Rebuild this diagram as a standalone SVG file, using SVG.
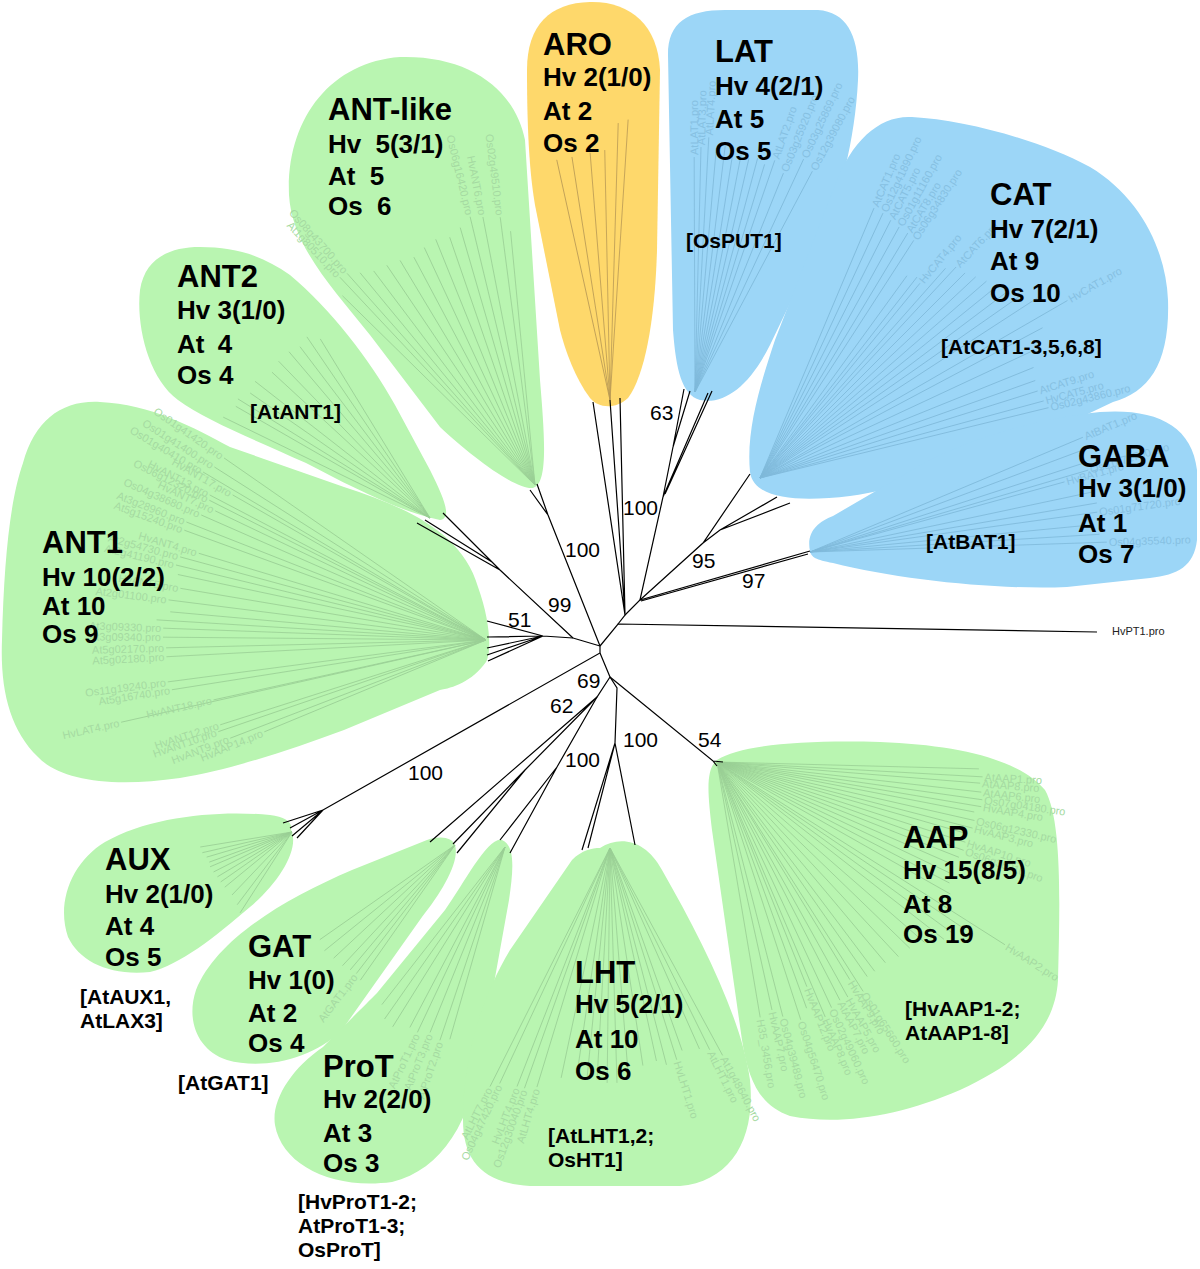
<svg xmlns="http://www.w3.org/2000/svg" width="1200" height="1269" viewBox="0 0 1200 1269">
<style>
.g{fill:#b9f5b1}
.b{fill:#9cd6f7}
.o{fill:#fed86b}
.lg line{stroke:#9acf95;stroke-width:.8}
.lb line{stroke:#7fb9da;stroke-width:.8}
.lo line{stroke:#b99a55;stroke-width:.8}
.tg{fill:#a5daa1;font-family:'Liberation Sans',Arial,sans-serif;font-size:11px}
.tb{fill:#86c0e2;font-family:'Liberation Sans',Arial,sans-serif;font-size:11px}
.e{text-anchor:end}
.nm{font-family:'Liberation Sans',Arial,sans-serif;font-weight:bold;font-size:31px;fill:#000}
.ct{font-family:'Liberation Sans',Arial,sans-serif;font-weight:bold;font-size:26px;fill:#000}
.bk{font-family:'Liberation Sans',Arial,sans-serif;font-weight:bold;font-size:21px;fill:#000}
.bs{font-family:'Liberation Sans',Arial,sans-serif;font-size:21px;fill:#000}
.br{stroke:#000;stroke-width:1.2;fill:none}
.lf{font-family:'Liberation Sans',Arial,sans-serif;font-size:11px;fill:#222}
</style>

<g id="ANT-like">
<path class="g" d="M533,488 C515,490 470,455 440,427 L370,335 C330,285 292,245 289,195 C286,120 330,62 400,57 C470,55 515,90 525,140 L540,380 C545,440 548,484 533,488 Z"/>
<g class="lg" transform="translate(535,485)">
<line x2="-255" transform="rotate(84.5)"/><line x2="-270" transform="rotate(82.6)"/><line x2="-273" transform="rotate(79)"/><line x2="-276" transform="rotate(76.4)"/><line x2="-268" transform="rotate(73.8)"/><line x2="-262" transform="rotate(71)"/><line x2="-265" transform="rotate(68)"/><line x2="-262" transform="rotate(65)"/><line x2="-258" transform="rotate(62)"/><line x2="-262" transform="rotate(59)"/><line x2="-265" transform="rotate(56)"/><line x2="-268" transform="rotate(53)"/><line x2="-275" transform="rotate(50.5)"/><line x2="-283" transform="rotate(48.4)"/><line x2="-285" transform="rotate(46.8)"/><line x2="-270" transform="rotate(44.5)"/>
</g>
<g class="tg e" transform="translate(535,485)">
<text x="-272" y="4" transform="rotate(82.6)">Os02g49510.pro</text>
<text x="-275" y="4" transform="rotate(79)">HvANT6.pro</text>
<text x="-278" y="4" transform="rotate(76.4)">Os06g16420.pro</text>
<text x="-285" y="4" transform="rotate(48.4)">Os08g43700.pro</text>
<text x="-287" y="4" transform="rotate(46.8)">At1g80510.pro</text>
</g>
<text class="nm" x="328" y="120">ANT-like</text>
<text class="ct" x="328" y="153">Hv <tspan dx="7">5(3/1)</tspan></text>
<text class="ct" x="328" y="185">At <tspan dx="7">5</tspan></text>
<text class="ct" x="328" y="215">Os <tspan dx="7">6</tspan></text>
</g>

<g id="ARO">
<path class="o" d="M527,70 C527,25 550,3 590,2 C630,1 658,25 660,70 L657,250 C655,320 645,375 628,398 C615,410 598,408 590,398 C575,378 565,350 560,330 L535,205 C528,165 527,110 527,70 Z"/>
<g class="lo" transform="translate(610,400)">
<line x2="-246" transform="rotate(77.5)"/><line x2="-246" transform="rotate(81.1)"/><line x2="-248" transform="rotate(85.4)"/><line x2="-250" transform="rotate(88.8)"/><line x2="-277" transform="rotate(91.7)"/><line x2="-281" transform="rotate(93.7)"/>
</g>
<text class="nm" x="543" y="55">ARO</text>
<text class="ct" x="543" y="86">Hv 2(1/0)</text>
<text class="ct" x="543" y="120">At 2</text>
<text class="ct" x="543" y="152">Os 2</text>
</g>

<g id="LAT">
<path class="b" d="M668,55 C668,22 688,10 725,10 L818,10 C848,12 860,38 858,80 C855,140 840,200 818,245 L770,345 C750,385 725,405 700,400 C682,395 676,370 673,330 Z"/>
<g class="lb" transform="translate(695,392)">
<line x2="235" transform="rotate(-90.2)"/><line x2="245" transform="rotate(-88.6)"/><line x2="255" transform="rotate(-86.9)"/><line x2="245" transform="rotate(-85)"/><line x2="250" transform="rotate(-83)"/><line x2="248" transform="rotate(-81)"/><line x2="245" transform="rotate(-79)"/><line x2="240" transform="rotate(-77)"/><line x2="242" transform="rotate(-75)"/><line x2="238" transform="rotate(-73)"/><line x2="245" transform="rotate(-71)"/><line x2="236" transform="rotate(-68)"/><line x2="257" transform="rotate(-65)"/><line x2="250" transform="rotate(-62)"/>
</g>
<g class="tb" transform="translate(695,392)">
<text x="237" y="4" transform="rotate(-90.2)">AtLAT1.pro</text>
<text x="247" y="4" transform="rotate(-88.6)">AtLAT3.pro</text>
<text x="257" y="4" transform="rotate(-86.9)">AtLAT4.pro</text>
<text x="247" y="4" transform="rotate(-71)">AtLAT2.pro</text>
<text x="238" y="4" transform="rotate(-68)">Os03g25920.pro</text>
<text x="259" y="4" transform="rotate(-65)">Os03g25869.pro</text>
<text x="252" y="4" transform="rotate(-62)">Os12g39080.pro</text>
</g>
<text class="nm" x="715" y="62">LAT</text>
<text class="ct" x="715" y="95">Hv 4(2/1)</text>
<text class="ct" x="715" y="128">At 5</text>
<text class="ct" x="715" y="160">Os 5</text>
<text class="bk" x="686" y="248">[OsPUT1]</text>
</g>

<g id="CAT">
<path class="b" d="M750,472 C746,430 760,385 775,340 L835,185 C852,140 880,115 912,117 C965,120 1040,140 1090,167 C1140,197 1166,250 1168,300 C1170,362 1150,392 1113,402 L1033,440 C980,462 900,490 850,496 C800,502 754,500 750,472 Z"/>
<g class="lb" transform="translate(760,478)">
<line x2="293" transform="rotate(-67.1)"/><line x2="292" transform="rotate(-65.1)"/><line x2="289" transform="rotate(-63.1)"/><line x2="287" transform="rotate(-61)"/><line x2="286" transform="rotate(-58.9)"/><line x2="283" transform="rotate(-57.1)"/><line x2="250" transform="rotate(-54)"/><line x2="255" transform="rotate(-52)"/><line x2="252" transform="rotate(-50.6)"/><line x2="280" transform="rotate(-48.5)"/><line x2="288" transform="rotate(-47.1)"/><line x2="290" transform="rotate(-45)"/><line x2="295" transform="rotate(-43)"/><line x2="300" transform="rotate(-41)"/><line x2="305" transform="rotate(-39)"/><line x2="310" transform="rotate(-37)"/><line x2="320" transform="rotate(-35)"/><line x2="330" transform="rotate(-33)"/><line x2="355" transform="rotate(-30)"/><line x2="320" transform="rotate(-28)"/><line x2="300" transform="rotate(-25)"/><line x2="295" transform="rotate(-22)"/><line x2="292" transform="rotate(-19.5)"/><line x2="291" transform="rotate(-17.4)"/><line x2="294" transform="rotate(-15.2)"/><line x2="297" transform="rotate(-13.7)"/>
</g>
<g class="tb" transform="translate(760,478)">
<text x="295" y="4" transform="rotate(-67.1)">AtCAT1.pro</text>
<text x="294" y="4" transform="rotate(-65.1)">Os12g41890.pro</text>
<text x="291" y="4" transform="rotate(-63.1)">AtCAT5.pro</text>
<text x="289" y="4" transform="rotate(-61)">Os01g11160.pro</text>
<text x="288" y="4" transform="rotate(-58.9)">AtCAT8.pro</text>
<text x="285" y="4" transform="rotate(-57.1)">Os06g34830.pro</text>
<text x="254" y="4" transform="rotate(-50.6)">HvCAT4.pro</text>
<text x="290" y="4" transform="rotate(-47.1)">AtCAT6.pro</text>
<text x="357" y="4" transform="rotate(-30)">HvCAT1.pro</text>
<text x="293" y="4" transform="rotate(-17.4)">AtCAT9.pro</text>
<text x="296" y="4" transform="rotate(-15.2)">HvCAT5.pro</text>
<text x="299" y="4" transform="rotate(-13.7)">Os02g43860.pro</text>
</g>
<text class="nm" x="990" y="205">CAT</text>
<text class="ct" x="990" y="238">Hv 7(2/1)</text>
<text class="ct" x="990" y="270">At 9</text>
<text class="ct" x="990" y="302">Os 10</text>
<text class="bk" x="941" y="354">[AtCAT1-3,5,6,8]</text>
</g>

<g id="GABA">
<path class="b" d="M810,551 C806,532 818,522 833,516 L917,467 C965,440 1030,420 1100,412 C1155,408 1192,425 1197,470 L1197,540 C1194,566 1178,575 1150,578 L1067,587 C1000,590 900,580 833,563 C816,560 811,557 810,551 Z"/>
<g class="lb" transform="translate(810,552)">
<line x2="296" transform="rotate(-22.8)"/><line x2="298" transform="rotate(-20.5)"/><line x2="290" transform="rotate(-18)"/><line x2="290" transform="rotate(-16.4)"/><line x2="264" transform="rotate(-15.4)"/><line x2="290" transform="rotate(-12)"/><line x2="291" transform="rotate(-9.7)"/><line x2="290" transform="rotate(-7.9)"/><line x2="285" transform="rotate(-5.5)"/><line x2="290" transform="rotate(-3.5)"/><line x2="297" transform="rotate(-1.9)"/>
</g>
<g class="tb" transform="translate(810,552)">
<text x="298" y="4" transform="rotate(-22.8)">AtBAT1.pro</text>
<text x="292" y="4" transform="rotate(-16.4)">Os01g71700.pro</text>
<text x="266" y="4" transform="rotate(-15.4)">HvBAT1.pro</text>
<text x="292" y="4" transform="rotate(-7.9)">Os01g71720.pro</text>
<text x="299" y="4" transform="rotate(-1.9)">Os04g35540.pro</text>
</g>
<text class="nm" x="1078" y="467">GABA</text>
<text class="ct" x="1078" y="497">Hv 3(1/0)</text>
<text class="ct" x="1078" y="532">At 1</text>
<text class="ct" x="1078" y="563">Os 7</text>
<text class="bk" x="926" y="549">[AtBAT1]</text>
</g>

<g id="HvPT1">
<text class="lf" x="1112" y="635">HvPT1.pro</text>
</g>

<g id="ANT2">
<path class="g" d="M440,520 C400,512 350,486 306,463 C255,440 205,420 178,400 C148,378 136,325 140,290 C145,258 170,247 200,247 C235,247 262,255 290,275 C330,308 370,360 395,405 L430,470 C445,500 452,518 440,520 Z"/>
<g class="lg" transform="translate(430,518)">
<line x2="-230" transform="rotate(26)"/><line x2="-224" transform="rotate(29.9)"/><line x2="-226" transform="rotate(31.8)"/><line x2="-219" transform="rotate(34.8)"/><line x2="-222" transform="rotate(38)"/><line x2="-215" transform="rotate(42.7)"/><line x2="-218" transform="rotate(46)"/><line x2="-218" transform="rotate(49.7)"/><line x2="-215" transform="rotate(52.8)"/><line x2="-219" transform="rotate(55.8)"/><line x2="-210" transform="rotate(58.5)"/>
</g>
<text class="nm" x="177" y="287">ANT2</text>
<text class="ct" x="177" y="319">Hv 3(1/0)</text>
<text class="ct" x="177" y="353">At <tspan dx="6">4</tspan></text>
<text class="ct" x="177" y="384">Os 4</text>
<text class="bk" x="250" y="419">[AtANT1]</text>
</g>

<g id="ANT1">
<path class="g" d="M23,463 C35,420 62,400 100,402 C150,404 195,428 230,447 L344,487 C400,505 462,530 478,587 C490,620 492,652 486,662 C472,682 452,688 440,690 L344,730 C290,750 230,770 180,778 C110,788 60,780 38,757 C10,730 0,690 2,640 C4,560 10,500 23,463 Z"/>
<g class="lg" transform="translate(486,640)">
<line x2="-319" transform="rotate(34.8)"/><line x2="-322" transform="rotate(32.5)"/><line x2="-329" transform="rotate(30.7)"/><line x2="-292" transform="rotate(29.8)"/><line x2="-312" transform="rotate(27.7)"/><line x2="-310" transform="rotate(26.8)"/><line x2="-300" transform="rotate(25.5)"/><line x2="-311" transform="rotate(23.7)"/><line x2="-322" transform="rotate(21.5)"/><line x2="-321" transform="rotate(20)"/><line x2="-300" transform="rotate(16.8)"/><line x2="-317" transform="rotate(15.2)"/><line x2="-319" transform="rotate(13.6)"/><line x2="-315" transform="rotate(12)"/><line x2="-310" transform="rotate(9.6)"/><line x2="-320" transform="rotate(7.2)"/><line x2="-317" transform="rotate(5.1)"/><line x2="-330" transform="rotate(3.5)"/><line x2="-323" transform="rotate(2.1)"/><line x2="-323" transform="rotate(0.5)"/><line x2="-320" transform="rotate(-1.4)"/><line x2="-320" transform="rotate(-3)"/><line x2="-321" transform="rotate(-7.5)"/><line x2="-318" transform="rotate(-9)"/><line x2="-279" transform="rotate(-12.4)"/><line x2="-374" transform="rotate(-12.7)"/><line x2="-279" transform="rotate(-17.7)"/><line x2="-283" transform="rotate(-18.9)"/><line x2="-274" transform="rotate(-21)"/><line x2="-240" transform="rotate(-22.5)"/>
</g>
<g class="tg e" transform="translate(486,640)">
<text x="-321" y="4" transform="rotate(34.8)">Os01g41420.pro</text>
<text x="-324" y="4" transform="rotate(32.5)">Os01g41400.pro</text>
<text x="-331" y="4" transform="rotate(30.7)">Os01g40410.pro</text>
<text x="-294" y="4" transform="rotate(29.8)">HvANT17.pro</text>
<text x="-314" y="4" transform="rotate(27.7)">HvANT13.pro</text>
<text x="-312" y="4" transform="rotate(26.8)">Os06g12320.pro</text>
<text x="-302" y="4" transform="rotate(25.5)">HvANT7.pro</text>
<text x="-313" y="4" transform="rotate(23.7)">Os04g38680.pro</text>
<text x="-324" y="4" transform="rotate(21.5)">At3g28960.pro</text>
<text x="-323" y="4" transform="rotate(20)">At5g15240.pro</text>
<text x="-302" y="4" transform="rotate(16.8)">HvANT4.pro</text>
<text x="-319" y="4" transform="rotate(15.2)">At2g54730.pro</text>
<text x="-321" y="4" transform="rotate(13.6)">At2g41190.pro</text>
<text x="-312" y="4" transform="rotate(9.6)">HvANT5.pro</text>
<text x="-322" y="4" transform="rotate(7.2)">At2g01100.pro</text>
<text x="-325" y="4" transform="rotate(2.1)">At3g09330.pro</text>
<text x="-325" y="4" transform="rotate(0.5)">At3g09340.pro</text>
<text x="-322" y="4" transform="rotate(-1.4)">At5g02170.pro</text>
<text x="-322" y="4" transform="rotate(-3)">At5g02180.pro</text>
<text x="-323" y="4" transform="rotate(-7.5)">Os11g19240.pro</text>
<text x="-320" y="4" transform="rotate(-9)">At5g16740.pro</text>
<text x="-281" y="4" transform="rotate(-12.4)">HvANT18.pro</text>
<text x="-376" y="4" transform="rotate(-12.7)">HvLAT4.pro</text>
<text x="-281" y="4" transform="rotate(-17.7)">HvANT12.pro</text>
<text x="-285" y="4" transform="rotate(-18.9)">HvANT10.pro</text>
<text x="-276" y="4" transform="rotate(-21)">HvANT9.pro</text>
<text x="-242" y="4" transform="rotate(-22.5)">HvAAP14.pro</text>
</g>
<text class="nm" x="42" y="553">ANT1</text>
<text class="ct" x="42" y="586">Hv 10(2/2)</text>
<text class="ct" x="42" y="615">At 10</text>
<text class="ct" x="42" y="643">Os 9</text>
</g>

<g id="AUX">
<path class="g" d="M291,830 C300,848 280,882 250,907 C215,937 180,965 150,972 C110,976 80,962 68,937 C56,902 72,862 105,842 C150,816 220,810 270,815 C285,817 293,822 291,830 Z"/>
<g class="lg" transform="translate(292,832)">
<line x2="-93" transform="rotate(-9.3)"/><line x2="-92" transform="rotate(-13)"/><line x2="-89" transform="rotate(-16.4)"/><line x2="-88" transform="rotate(-20)"/><line x2="-89" transform="rotate(-23)"/><line x2="-88" transform="rotate(-27)"/><line x2="-87" transform="rotate(-31)"/><line x2="-87" transform="rotate(-35)"/><line x2="-87" transform="rotate(-39.4)"/><line x2="-87" transform="rotate(-46.4)"/><line x2="-91" transform="rotate(-53)"/><line x2="-96" transform="rotate(-57.3)"/>
</g>
<text class="nm" x="105" y="870">AUX</text>
<text class="ct" x="105" y="903">Hv 2(1/0)</text>
<text class="ct" x="105" y="935">At 4</text>
<text class="ct" x="105" y="966">Os 5</text>
<text class="bk" x="80" y="1004">[AtAUX1,</text>
<text class="bk" x="80" y="1028">AtLAX3]</text>
</g>

<g id="GAT">
<path class="g" d="M455,845 C460,862 442,892 422,917 L342,1030 C312,1060 262,1070 227,1060 C197,1050 186,1020 196,990 C216,940 282,900 352,870 L427,840 C442,835 452,838 455,845 Z"/>
<g class="lg" transform="translate(455,845)">
<line x2="-165" transform="rotate(-35)"/><line x2="-168" transform="rotate(-39)"/><line x2="-166" transform="rotate(-43)"/><line x2="-165" transform="rotate(-47)"/><line x2="-163" transform="rotate(-50)"/><line x2="-162" transform="rotate(-52.5)"/><line x2="-165" transform="rotate(-55)"/>
</g>
<g class="tg e" transform="translate(455,845)">
<text x="-164" y="4" transform="rotate(-52.5)">AtGAT1.pro</text>
</g>
<text class="nm" x="248" y="957">GAT</text>
<text class="ct" x="248" y="989">Hv 1(0)</text>
<text class="ct" x="248" y="1022">At 2</text>
<text class="ct" x="248" y="1052">Os 4</text>
<text class="bk" x="178" y="1090">[AtGAT1]</text>
</g>

<g id="ProT">
<path class="g" d="M502,840 C516,846 513,872 509,900 L482,1050 C472,1120 442,1170 392,1182 C332,1190 282,1165 275,1125 C271,1100 292,1068 323,1047 C345,1025 365,1005 377,993 L445,910 C465,882 488,836 502,840 Z"/>
<g class="lg" transform="translate(505,847)">
<line x2="-200" transform="rotate(-52)"/><line x2="-210" transform="rotate(-55)"/><line x2="-212" transform="rotate(-58)"/><line x2="-204" transform="rotate(-62.2)"/><line x2="-205" transform="rotate(-64.7)"/><line x2="-200" transform="rotate(-68)"/><line x2="-204" transform="rotate(-71.4)"/><line x2="-200" transform="rotate(-74)"/>
</g>
<g class="tg e" transform="translate(505,847)">
<text x="-207" y="4" transform="rotate(-64.7)">AtProT1.pro</text>
<text x="-202" y="4" transform="rotate(-68)">AtProT3.pro</text>
<text x="-206" y="4" transform="rotate(-71.4)">AtProT2.pro</text>
</g>
<text class="nm" x="323" y="1077">ProT</text>
<text class="ct" x="323" y="1108">Hv 2(2/0)</text>
<text class="ct" x="323" y="1142">At 3</text>
<text class="ct" x="323" y="1172">Os 3</text>
<text class="bk" x="298" y="1209">[HvProT1-2;</text>
<text class="bk" x="298" y="1233">AtProT1-3;</text>
<text class="bk" x="298" y="1257">OsProT]</text>
</g>

<g id="LHT">
<path class="g" d="M600,848 C620,835 646,840 662,870 C702,940 742,1020 750,1080 C756,1140 730,1182 680,1186 L530,1186 C482,1183 463,1160 463,1120 C463,1060 480,1000 510,950 L572,860 C582,850 592,848 600,848 Z"/>
<g class="lg" transform="translate(610,848)">
<line x2="-267" transform="rotate(-63.3)"/><line x2="-260" transform="rotate(-64.9)"/><line x2="-256" transform="rotate(-68.7)"/><line x2="-255" transform="rotate(-70.4)"/><line x2="-250" transform="rotate(-73)"/><line x2="-235" transform="rotate(-78)"/><line x2="-228" transform="rotate(-81.7)"/><line x2="-230" transform="rotate(-84.3)"/><line x2="-232" transform="rotate(-86.8)"/><line x2="-235" transform="rotate(-89.3)"/>
<line x2="235" transform="rotate(88.3)"/><line x2="226" transform="rotate(85.4)"/><line x2="220" transform="rotate(81.4)"/><line x2="218" transform="rotate(77.7)"/><line x2="224" transform="rotate(75.4)"/><line x2="222" transform="rotate(72.5)"/><line x2="215" transform="rotate(70.4)"/><line x2="220" transform="rotate(66)"/><line x2="225" transform="rotate(63.7)"/><line x2="236" transform="rotate(61.5)"/>
</g>
<g class="tg e" transform="translate(610,848)">
<text x="-269" y="4" transform="rotate(-63.3)">AtLHT7.pro</text>
<text x="-262" y="4" transform="rotate(-64.9)">Os04g47420.pro</text>
<text x="-258" y="4" transform="rotate(-68.7)">HvLHT4.pro</text>
<text x="-257" y="4" transform="rotate(-70.4)">Os12g30040.pro</text>
<text x="-252" y="4" transform="rotate(-73)">AtLHT4.pro</text>
</g>
<g class="tg" transform="translate(610,848)">
<text x="224" y="4" transform="rotate(72.5)">HvLHT1.pro</text>
<text x="227" y="4" transform="rotate(63.7)">AtLHT1.pro</text>
<text x="238" y="4" transform="rotate(61.5)">At1g48640.pro</text>
</g>
<text class="nm" x="575" y="983">LHT</text>
<text class="ct" x="575" y="1013">Hv 5(2/1)</text>
<text class="ct" x="575" y="1048">At 10</text>
<text class="ct" x="575" y="1080">Os 6</text>
<text class="bk" x="548" y="1143">[AtLHT1,2;</text>
<text class="bk" x="548" y="1167">OsHT1]</text>
</g>

<g id="AAP">
<path class="g" d="M717,760 C740,745 800,740 880,742 C960,745 1020,760 1045,790 C1062,820 1060,900 1058,980 C1055,1030 1020,1062 960,1090 C900,1116 840,1126 790,1116 C760,1106 748,1080 742,1040 L712,830 C708,795 705,770 717,760 Z"/>
<g class="lg" transform="translate(717,762)">
<line x2="262" transform="rotate(1.5)"/><line x2="266" transform="rotate(3.2)"/><line x2="264" transform="rotate(4.6)"/><line x2="266" transform="rotate(6.5)"/><line x2="268" transform="rotate(8.1)"/><line x2="268" transform="rotate(9.6)"/><line x2="262" transform="rotate(11)"/><line x2="264" transform="rotate(12.8)"/><line x2="264" transform="rotate(14.5)"/><line x2="258" transform="rotate(16)"/><line x2="261" transform="rotate(17.9)"/><line x2="262" transform="rotate(19.7)"/><line x2="260" transform="rotate(21.5)"/><line x2="255" transform="rotate(23.5)"/><line x2="258" transform="rotate(25.5)"/><line x2="262" transform="rotate(27.5)"/><line x2="268" transform="rotate(29.5)"/><line x2="341" transform="rotate(32.4)"/><line x2="300" transform="rotate(34)"/><line x2="292" transform="rotate(36)"/><line x2="288" transform="rotate(38)"/><line x2="275" transform="rotate(41)"/><line x2="268" transform="rotate(44)"/><line x2="266" transform="rotate(47)"/><line x2="262" transform="rotate(50)"/><line x2="262" transform="rotate(53)"/><line x2="262" transform="rotate(55)"/><line x2="255" transform="rotate(58.6)"/><line x2="272" transform="rotate(57.5)"/><line x2="269" transform="rotate(60.9)"/><line x2="268" transform="rotate(62.7)"/><line x2="271" transform="rotate(65)"/><line x2="277" transform="rotate(67)"/><line x2="242" transform="rotate(68.2)"/><line x2="262" transform="rotate(70)"/><line x2="271" transform="rotate(72)"/><line x2="263" transform="rotate(75.5)"/><line x2="254" transform="rotate(77.5)"/><line x2="259" transform="rotate(80.4)"/>
</g>
<g class="tg" transform="translate(717,762)">
<text x="268" y="4" transform="rotate(3.2)">AtAAP1.pro</text>
<text x="266" y="4" transform="rotate(4.6)">AtAAP8.pro</text>
<text x="268" y="4" transform="rotate(6.5)">AtAAP6.pro</text>
<text x="270" y="4" transform="rotate(8.1)">Os07g04180.pro</text>
<text x="270" y="4" transform="rotate(9.6)">HvAAP4.pro</text>
<text x="266" y="4" transform="rotate(12.8)">Os06g12330.pro</text>
<text x="266" y="4" transform="rotate(14.5)">HvAAP3.pro</text>
<text x="263" y="4" transform="rotate(17.9)">HvAAP10.pro</text>
<text x="264" y="4" transform="rotate(19.7)">Os06g36210.pro</text>
<text x="343" y="4" transform="rotate(32.4)">HvAAP2.pro</text>
<text x="257" y="4" transform="rotate(58.6)">HvAAP9.pro</text>
<text x="274" y="4" transform="rotate(57.5)">Os01g65660.pro</text>
<text x="271" y="4" transform="rotate(60.9)">HvAAP5.pro</text>
<text x="270" y="4" transform="rotate(62.7)">AtAAP7.pro</text>
<text x="273" y="4" transform="rotate(65)">Os02g49060.pro</text>
<text x="279" y="4" transform="rotate(67)">HvAAP8.pro</text>
<text x="244" y="4" transform="rotate(68.2)">HvAAP12.pro</text>
<text x="273" y="4" transform="rotate(72)">Os04g56470.pro</text>
<text x="265" y="4" transform="rotate(75.5)">Os04g39489.pro</text>
<text x="256" y="4" transform="rotate(77.5)">HvAAP7.pro</text>
<text x="261" y="4" transform="rotate(80.4)">H35_3456.pro</text>
</g>
<text class="nm" x="903" y="848">AAP</text>
<text class="ct" x="903" y="879">Hv 15(8/5)</text>
<text class="ct" x="903" y="913">At 8</text>
<text class="ct" x="903" y="943">Os 19</text>
<text class="bk" x="905" y="1016">[HvAAP1-2;</text>
<text class="bk" x="905" y="1040">AtAAP1-8]</text>
</g>

<g id="connectors" class="br">
<path d="M600,646 L618,624 L1097,632"/>
<path d="M618,624 L625,615 L593,402 M625,615 L610,400 M625,615 L620,398"/>
<path d="M625,615 L640,600 L663,497 L673,447 L684,389 M673,447 L690,391 M663,497 L708,393 M665,494 L712,391"/>
<path d="M640,600 L703,543 L750,474 M703,543 L720,530 L777,497 M720,530 L790,503"/>
<path d="M640,600 L810,551 M641,601 L808,554"/>
<path d="M600,646 L573,638 L543,636 L487,621 M543,636 L487,637 M543,636 L487,648 M543,636 L487,655 M543,636 L488,661"/>
<path d="M573,638 L500,570 L443,513 M500,570 L417,523 M492,562 L425,520"/>
<path d="M600,646 L548,515 L537,484 M548,515 L530,490"/>
<path d="M600,646 L600,653 L323,810 L283,823 M323,810 L290,828 M323,810 L292,836 M323,810 L297,838"/>
<path d="M600,653 L610,677 L597,697 L430,842 M597,697 L525,770 L453,844 M525,770 L457,853"/>
<path d="M597,697 L557,767 L500,840 M557,767 L510,853"/>
<path d="M610,677 L617,688 L615,743 L582,850 M615,743 L588,848 M615,743 L635,845"/>
<path d="M610,677 L713,761 L723,762 M713,761 L717,766"/>
</g>

<g id="bootstrap">
<text class="bs" x="650" y="420">63</text>
<text class="bs" x="623" y="515">100</text>
<text class="bs" x="692" y="568">95</text>
<text class="bs" x="742" y="588">97</text>
<text class="bs" x="565" y="557">100</text>
<text class="bs" x="548" y="612">99</text>
<text class="bs" x="508" y="627">51</text>
<text class="bs" x="577" y="688">69</text>
<text class="bs" x="550" y="713">62</text>
<text class="bs" x="623" y="747">100</text>
<text class="bs" x="565" y="767">100</text>
<text class="bs" x="698" y="747">54</text>
<text class="bs" x="408" y="780">100</text>
</g>
</svg>
